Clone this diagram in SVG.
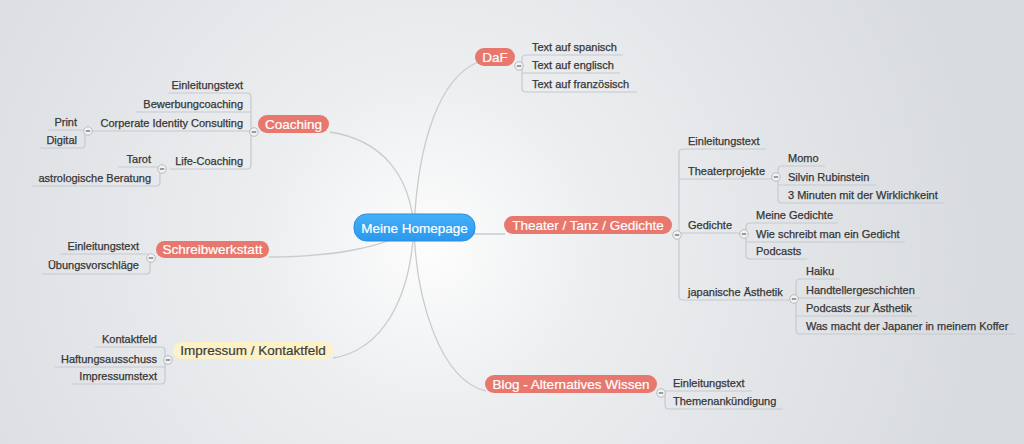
<svg xmlns="http://www.w3.org/2000/svg" width="1024" height="444" viewBox="0 0 1024 444">
<defs>
<radialGradient id="bg" cx="430" cy="245" r="560" gradientUnits="userSpaceOnUse">
<stop offset="0" stop-color="#fdfdfd"/>
<stop offset="0.3" stop-color="#eceef0"/>
<stop offset="1" stop-color="#d8dbdf"/>
</radialGradient>
<linearGradient id="blue" x1="0" y1="0" x2="0" y2="1">
<stop offset="0" stop-color="#45b0f7"/>
<stop offset="1" stop-color="#2b98ee"/>
</linearGradient>
</defs>
<style>
.bg{fill:url(#bg)}
.conn{fill:none;stroke:#c9cbce;stroke-width:1.3}
.ln{fill:none;stroke:#c6c9cd;stroke-width:1.2}
.pill{fill:#e8776d}
.pt{font-family:"Liberation Sans",Arial,sans-serif;font-size:13.5px;fill:#ffffff;stroke:#ffffff;stroke-width:0.2;text-anchor:middle}
.yt{font-family:"Liberation Sans",Arial,sans-serif;font-size:13.5px;fill:#3c3c3c;stroke:#3c3c3c;stroke-width:0.2;text-anchor:middle}
.t{font-family:"Liberation Sans",Arial,sans-serif;font-size:11px;fill:#363636;stroke:#363636;stroke-width:0.25}
.r{text-anchor:end}
.knob{fill:#f1f2f3;stroke:#b9bcc0;stroke-width:1}
.minus{stroke:#555;stroke-width:1.1}
</style>
<rect class="bg" x="0" y="0" width="1024" height="444"/>

<g id="connectors">
<path class="conn" d="M330,132 C382,140 410,175 414,228"/>
<path class="conn" d="M478,62 C440,78 418,140 414,228"/>
<path class="conn" d="M269,257 C330,257 385,248 414,228"/>
<path class="conn" d="M333,358 C382,350 410,300 414,228"/>
<path class="conn" d="M486,391 C440,380 416,300 414,228"/>
<path class="conn" d="M414,233 C450,234 480,234 505,234"/>
</g>

<g id="center">
<rect x="354" y="214" width="121" height="27" rx="12.5" fill="url(#blue)" stroke="#2a8de0" stroke-width="1"/>
<text class="pt" x="414.5" y="232.5">Meine Homepage</text>
</g>

<g id="coaching">
<path class="ln" d="M168,93 H247 Q251,93 251,97 V165 Q251,169 247,169 H170"/>
<path class="ln" d="M136,112 H251"/>
<path class="ln" d="M90,131 H251"/>
<rect class="pill" x="258" y="115" width="71" height="18" rx="9"/>
<text class="pt" x="293.5" y="128.5">Coaching</text>
<circle class="knob" cx="254" cy="132" r="4.3"/><path class="minus" d="M251.8,132 H256.2"/>
<text class="t r" x="243" y="89">Einleitungstext</text>
<text class="t r" x="243" y="108">Bewerbungcoaching</text>
<text class="t r" x="243" y="127">Corperate Identity Consulting</text>
<text class="t r" x="243" y="165">Life-Coaching</text>
</g>

<g id="cid">
<path class="ln" d="M48,130 H85 V144 Q85,148 81,148 H40"/>
<circle class="knob" cx="88" cy="131" r="4.3"/><path class="minus" d="M85.8,131 H90.2"/>
<text class="t r" x="77" y="126">Print</text>
<text class="t r" x="77" y="144">Digital</text>
</g>

<g id="lifecoaching">
<path class="ln" d="M118,167 H160 V182 Q160,186 156,186 H32"/>
<circle class="knob" cx="162" cy="169" r="4.3"/><path class="minus" d="M159.8,169 H164.2"/>
<text class="t r" x="151" y="163">Tarot</text>
<text class="t r" x="151" y="182">astrologische Beratung</text>
</g>

<g id="schreibwerkstatt">
<path class="ln" d="M60,254 H146 Q150,254 150,258 V270 Q150,274 146,274 H42"/>
<rect class="pill" x="156" y="241" width="113" height="17" rx="8.5"/>
<text class="pt" x="212.5" y="254">Schreibwerkstatt</text>
<circle class="knob" cx="151" cy="258" r="4.3"/><path class="minus" d="M148.8,258 H153.2"/>
<text class="t r" x="139" y="250">Einleitungstext</text>
<text class="t r" x="139" y="269">Übungsvorschläge</text>
</g>

<g id="impressum">
<path class="ln" d="M95,347 H161 Q165,347 165,351 V380 Q165,384 161,384 H72"/>
<path class="ln" d="M55,367 H165"/>
<rect x="173" y="342" width="160" height="17" rx="8.5" fill="#fdf2c6"/>
<text class="yt" x="253" y="355">Impressum / Kontaktfeld</text>
<circle class="knob" cx="168" cy="360" r="4.3"/><path class="minus" d="M165.8,360 H170.2"/>
<text class="t r" x="157" y="343">Kontaktfeld</text>
<text class="t r" x="157" y="363">Haftungsausschuss</text>
<text class="t r" x="157" y="380">Impressumstext</text>
</g>

<g id="daf">
<path class="ln" d="M623,55 H526 Q522,55 522,59 V88 Q522,92 526,92 H637"/>
<path class="ln" d="M620,73 H522"/>
<rect class="pill" x="475" y="48" width="40" height="18" rx="9"/>
<text class="pt" x="495" y="61.5">DaF</text>
<circle class="knob" cx="519" cy="66" r="4.3"/><path class="minus" d="M516.8,66 H521.2"/>
<text class="t" x="532" y="51">Text auf spanisch</text>
<text class="t" x="532" y="69">Text auf englisch</text>
<text class="t" x="532" y="88">Text auf französisch</text>
</g>

<g id="theater">
<path class="ln" d="M766,149 H683 Q679,149 679,153 V296 Q679,300 683,300 H794"/>
<path class="ln" d="M679,179 H776"/>
<path class="ln" d="M679,233 H744"/>
<rect class="pill" x="504" y="216" width="168" height="18" rx="9"/>
<text class="pt" x="588" y="229.5">Theater / Tanz / Gedichte</text>
<circle class="knob" cx="677" cy="235" r="4.3"/><path class="minus" d="M674.8,235 H679.2"/>
<text class="t" x="688" y="145">Einleitungstext</text>
<text class="t" x="688" y="175">Theaterprojekte</text>
<text class="t" x="688" y="229">Gedichte</text>
<text class="t" x="688" y="296">japanische Ästhetik</text>
</g>

<g id="theaterprojekte">
<path class="ln" d="M825,166 H782 Q778,166 778,170 V199 Q778,203 782,203 H944"/>
<path class="ln" d="M876,185 H778"/>
<circle class="knob" cx="776" cy="177" r="4.3"/><path class="minus" d="M773.8,177 H778.2"/>
<text class="t" x="788" y="162">Momo</text>
<text class="t" x="788" y="181">Silvin Rubinstein</text>
<text class="t" x="788" y="199">3 Minuten mit der Wirklichkeint</text>
</g>

<g id="gedichte">
<path class="ln" d="M838,223 H750 Q746,223 746,227 V255 Q746,259 750,259 H807"/>
<path class="ln" d="M905,242 H746"/>
<circle class="knob" cx="744" cy="234" r="4.3"/><path class="minus" d="M741.8,234 H746.2"/>
<text class="t" x="756" y="219">Meine Gedichte</text>
<text class="t" x="756" y="238">Wie schreibt man ein Gedicht</text>
<text class="t" x="756" y="255">Podcasts</text>
</g>

<g id="japanisch">
<path class="ln" d="M840,279 H800 Q796,279 796,283 V330 Q796,334 800,334 H1015"/>
<path class="ln" d="M920,298 H796"/>
<path class="ln" d="M917,316 H796"/>
<circle class="knob" cx="794" cy="299" r="4.3"/><path class="minus" d="M791.8,299 H796.2"/>
<text class="t" x="806" y="275">Haiku</text>
<text class="t" x="806" y="294">Handtellergeschichten</text>
<text class="t" x="806" y="312">Podcasts zur Ästhetik</text>
<text class="t" x="806" y="330">Was macht der Japaner in meinem Koffer</text>
</g>

<g id="blog">
<path class="ln" d="M752,391 H665 V405 Q665,409 669,409 H783"/>
<rect class="pill" x="485" y="375" width="172" height="18" rx="9"/>
<text class="pt" x="571" y="388.5">Blog - Alternatives Wissen</text>
<circle class="knob" cx="661" cy="393" r="4.3"/><path class="minus" d="M658.8,393 H663.2"/>
<text class="t" x="673" y="387">Einleitungstext</text>
<text class="t" x="673" y="405">Themenankündigung</text>
</g>
</svg>
